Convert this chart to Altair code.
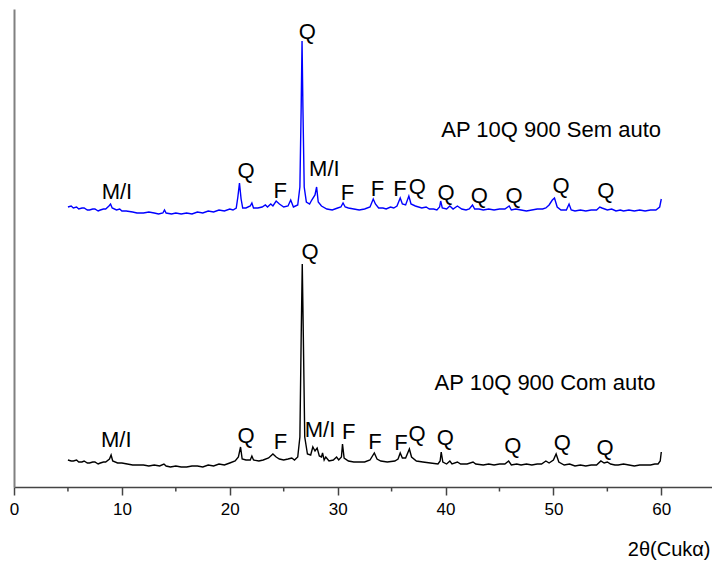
import altair as alt
import pandas as pd

# ---- Blue trace: AP 10Q 900 Sem auto (2theta, intensity) ----
sem_t = [5.0, 5.3, 5.5, 5.8, 6.0, 6.3, 6.5, 6.8, 7.0, 7.3, 7.5, 7.8, 8.0, 8.3, 8.5, 8.8, 8.95, 9.1,
         9.5, 9.8, 10.0, 10.4, 11.0, 11.4, 12.0, 12.5, 13.0, 13.4,
         13.8, 13.95, 14.1, 14.6, 15.0, 15.5, 16.0, 16.5, 17.0, 17.5, 18.0, 18.5, 19.0, 19.5, 20.0,
         20.3, 20.6, 20.75, 20.9, 21.05, 21.2,
         21.5, 21.9, 22.05, 22.2, 22.6, 23.0, 23.3, 23.5, 23.8, 24.0, 24.3, 24.6, 25.0, 25.4,
         25.65, 25.9, 26.3, 26.5, 26.62, 26.7, 26.78, 26.9, 27.1, 27.4, 27.6, 27.9, 28.05, 28.2,
         28.5, 29.0, 29.5, 30.0, 30.3, 30.5, 30.7, 31.0, 31.5, 32.0, 32.5, 33.0, 33.3, 33.5,
         33.8, 34.2, 34.5, 34.9, 35.2, 35.5, 35.8, 36.0, 36.3, 36.6, 36.8, 37.2, 37.8, 38.2, 38.5,
         38.9, 39.2, 39.45, 39.55, 39.7, 40.1, 40.4, 40.7, 41.1, 41.5, 41.9, 42.2, 42.5, 42.7, 43.1,
         43.5, 44.0, 44.5, 45.0, 45.5, 45.9,
         46.1, 46.5, 47.0, 47.5, 48.0, 48.5, 49.0, 49.3, 49.6, 49.9, 50.1, 50.35, 50.7, 51.2,
         51.45, 51.65, 52.0, 52.5, 53.0, 53.5,
         54.0, 54.3, 54.5, 55.0, 55.4, 55.8, 56.2, 56.5, 57.0, 57.5, 58.0, 58.5, 59.0, 59.5,
         59.85, 60.0]
sem_i = [280, 281, 279, 280, 278, 279, 279, 277, 277, 278, 278, 276, 277, 278, 278, 281, 283, 279,
         277, 278, 276, 276, 275, 274, 274, 275, 274, 273,
         274, 277, 274, 273, 274, 273, 274, 273, 275, 274, 276, 275, 277, 276, 278,
         277, 279, 290, 304, 288, 279,
         279, 281, 284, 279, 279, 280, 282, 280, 283, 281, 286, 283, 280, 281,
         287, 280, 282, 300, 380, 446, 380, 300, 285, 283, 287, 292, 300, 285,
         281, 278, 277, 279, 280, 284, 280, 279, 278, 277, 278, 280, 288, 283,
         279, 279, 278, 280, 279, 281, 289, 283, 282, 291, 283, 281, 279, 280, 278,
         278, 277, 280, 286, 279, 278, 281, 278, 281, 278, 277, 278, 282, 278, 278,
         277, 278, 277, 278, 278, 281,
         277, 278, 277, 276, 277, 278, 278, 279, 282, 287, 289, 280, 277, 277,
         283, 277, 276, 277, 276, 277,
         277, 280, 279, 277, 278, 276, 277, 276, 277, 276, 277, 276, 277, 277,
         280, 288]

# ---- Black trace: AP 10Q 900 Com auto ----
com_t = [5.0, 5.3, 5.5, 5.8, 6.0, 6.3, 6.5, 6.8, 7.0, 7.3, 7.5, 7.8, 8.0, 8.3, 8.5, 8.85, 9.0, 9.15,
         9.6, 10.0, 10.5, 11.0, 11.5, 12.0, 12.5, 13.0, 13.5,
         13.9, 14.1, 14.5, 15.0, 15.5, 16.0, 16.5, 17.0, 17.5, 18.0, 18.5, 19.0, 19.5, 20.0,
         20.5, 20.8, 21.0, 21.15, 21.5, 21.9,
         22.05, 22.2, 22.7, 23.1, 23.6, 24.0, 24.3, 24.6, 25.0, 25.4, 25.75, 26.0, 26.3, 26.5,
         26.62, 26.72, 26.82, 26.95, 27.2, 27.5, 27.7, 27.9, 28.1, 28.3, 28.5, 28.6, 28.75, 28.9,
         29.2, 29.6, 29.9, 30.1, 30.35, 30.45, 30.6, 31.0, 31.5, 32.0, 32.5, 33.0, 33.4, 33.65,
         34.0, 34.6, 35.3, 35.6, 35.8, 36.0, 36.3, 36.65, 36.85, 37.3, 37.9, 38.6, 39.3, 39.5,
         39.6, 39.75, 40.1, 40.4, 40.6, 41.1, 41.4, 42.0, 42.55, 42.8, 43.5, 44.0, 44.5, 45.0,
         45.5, 45.85, 46.1, 46.6, 47.0, 47.5, 48.0, 48.5, 48.9, 49.3, 49.6, 50.0, 50.25, 50.5,
         51.0, 51.5, 52.0, 52.5, 53.0, 53.5, 54.0,
         54.4, 54.7, 55.0, 55.3, 55.7, 56.0, 56.5, 57.0, 57.5, 58.0, 58.5, 59.0, 59.4, 59.7,
         59.9, 60.0]
com_i = [27, 26, 26, 27, 25, 25, 26, 24, 24, 25, 25, 23, 24, 25, 25, 28, 32, 26,
         24, 24, 23, 22, 22, 22, 21, 22, 21,
         23, 21, 20, 21, 20, 20, 21, 21, 20, 22, 21, 23, 22, 24,
         26, 30, 40, 28, 27, 27,
         31, 27, 26, 27, 29, 33, 30, 28, 27, 28, 29, 27, 30, 50,
         150, 223, 150, 50, 33, 32, 40, 36, 39, 31, 30, 34, 27, 30,
         26, 27, 30, 27, 30, 43, 29, 26, 25, 25, 25, 27, 34, 28,
         26, 25, 26, 28, 34, 29, 29, 38, 30, 26, 25, 24, 23, 26,
         35, 25, 23, 26, 23, 25, 23, 23, 25, 23, 22, 23, 22, 23,
         23, 26, 22, 23, 22, 23, 22, 23, 23, 26, 24, 27, 33, 25,
         22, 23, 21, 22, 21, 22, 22,
         26, 24, 25, 23, 22, 22, 23, 22, 21, 22, 22, 22, 23, 23,
         26, 35]

# ---- Peak labels ----
sem_lab_text = ["M/I", "Q", "F", "Q", "M/I", "F", "F", "F", "Q", "Q", "Q", "Q", "Q", "Q"]
sem_lab_t = [9.54, 21.52, 24.67, 27.19, 28.77, 30.9, 33.68, 35.78, 37.38, 40.04, 43.12, 46.36, 50.71, 54.85]
sem_lab_i = [288, 309, 289, 448, 311, 287, 291, 291, 293, 287, 284, 284, 294, 289]

com_lab_text = ["M/I", "Q", "F", "Q", "M/I", "F", "F", "F", "Q", "Q", "Q", "Q", "Q"]
com_lab_t = [9.48, 21.52, 24.69, 27.44, 28.37, 31.02, 33.46, 35.87, 37.35, 39.97, 46.23, 50.83, 54.79]
com_lab_i = [40, 44, 38, 228, 50, 48, 38, 37, 46, 42, 34, 37, 32]

series_names = ["AP 10Q 900 Sem auto", "AP 10Q 900 Com auto"]
series_name_t = [49.79, 49.23]
series_name_i = [350, 97]

minor_ticks = [5, 15, 25, 35, 45, 55]
major_ticks = [0, 10, 20, 30, 40, 50, 60]

W, H = 698, 478
FONT = "Liberation Sans"

lines = pd.concat([
    pd.DataFrame({"t": sem_t, "i": sem_i, "s": "Sem"}),
    pd.DataFrame({"t": com_t, "i": com_i, "s": "Com"}),
])
labels = pd.concat([
    pd.DataFrame({"t": sem_lab_t, "i": sem_lab_i, "txt": sem_lab_text}),
    pd.DataFrame({"t": com_lab_t, "i": com_lab_i, "txt": com_lab_text}),
])
names = pd.DataFrame({"t": series_name_t, "i": series_name_i, "txt": series_names})
minor = pd.DataFrame({"t": minor_ticks})

xscale = alt.Scale(domain=[0, 64.7], nice=False, zero=False)
yscale = alt.Scale(domain=[0, H], nice=False, zero=False)

xaxis = alt.Axis(values=major_ticks, title="2θ(Cukα)", grid=False,
                 domainColor="#444444", domainWidth=1.5, tickColor="#444444",
                 tickWidth=1.5, tickSize=8, labelFont=FONT, labelFontSize=17,
                 labelColor="#000000", labelPadding=6, labelFlush=False,
                 titleFont=FONT, titleFontSize=20, titleFontWeight="normal",
                 titleColor="#000000", titleX=W - 2, titleY=68,
                 titleAlign="right", titleBaseline="alphabetic")
yaxis = alt.Axis(labels=False, ticks=False, title=None, grid=False,
                 domainColor="#808080", domainWidth=2)

line_layer = alt.Chart(lines).mark_line(strokeWidth=1.4).encode(
    x=alt.X("t:Q", scale=xscale, axis=xaxis),
    y=alt.Y("i:Q", scale=yscale, axis=yaxis),
    color=alt.Color("s:N", scale=alt.Scale(domain=["Sem", "Com"], range=["#0000ff", "#000000"]), legend=None),
)

label_layer = alt.Chart(labels).mark_text(font=FONT, fontSize=22, baseline="alphabetic",
                                          align="center", color="#000000").encode(
    x=alt.X("t:Q", scale=xscale), y=alt.Y("i:Q", scale=yscale), text="txt:N")

name_layer = alt.Chart(names).mark_text(font=FONT, fontSize=22, baseline="alphabetic",
                                        align="center", color="#000000").encode(
    x=alt.X("t:Q", scale=xscale), y=alt.Y("i:Q", scale=yscale), text="txt:N")

minor_layer = alt.Chart(minor).mark_rule(color="#444444", strokeWidth=1.5).encode(
    x=alt.X("t:Q", scale=xscale), y=alt.value(H), y2=alt.value(H + 4.5))

chart = alt.layer(line_layer, minor_layer, label_layer, name_layer).properties(
    width=W, height=H,
    autosize=alt.AutoSizeParams(type="none"),
    padding={"left": 14, "top": 9, "right": 0, "bottom": 75},
    background="white",
).configure_view(stroke=None)

chart.save("out.html", embed_options={"renderer": "svg", "actions": False})
